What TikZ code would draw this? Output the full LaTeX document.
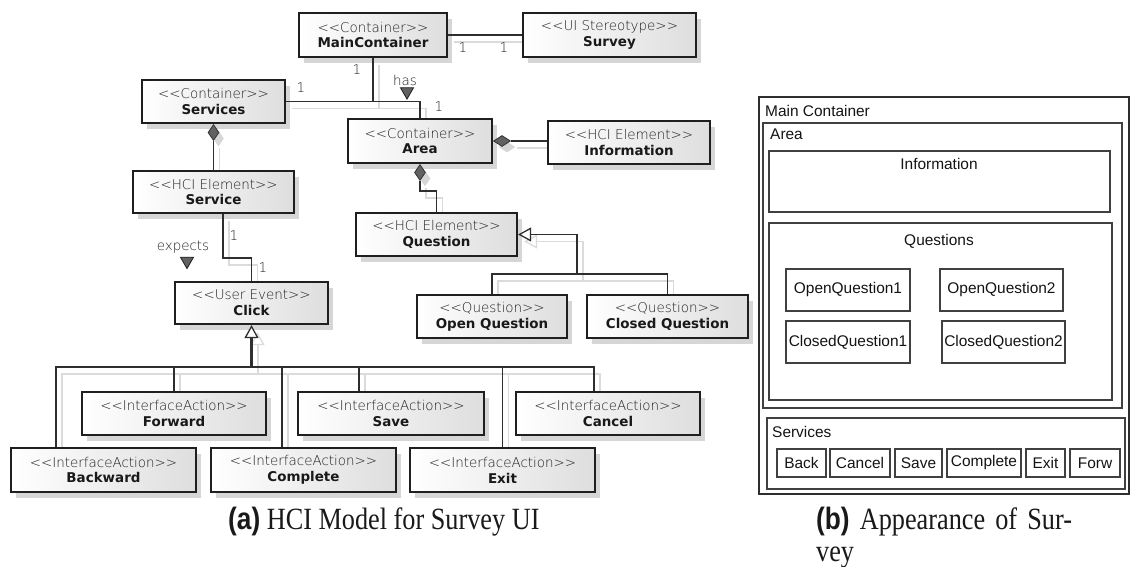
\documentclass[tikz,border=0pt]{standalone}
\usepackage{fontspec}
\setmainfont{Liberation Serif}
\setsansfont{Liberation Sans}
\newfontfamily\umlfont{DejaVu Sans}
\IfFontExistsTF{DejaVu Sans ExtraLight}
  {\newfontfamily\umllight{DejaVu Sans ExtraLight}\def\stcol{black!88}}
  {\newfontfamily\umllight{DejaVu Sans}\def\stcol{black!68}}
\newfontfamily\uifont{Liberation Sans}
\usetikzlibrary{shadows,shapes.geometric,arrows.meta,calc}
\pgfdeclarelayer{bg}
\pgfsetlayers{bg,main}
\newcommand\stt[1]{<\kern0pt<#1>\kern0pt>}
\newcommand\umltext[2]{{\umllight\color{\stcol}\stt{#1}}\\{\bfseries\color{black!90}#2}}
\tikzset{
  uml/.style={draw=black!88, line width=2.2bp, left color=white, right color=black!13,
    drop shadow={shadow xshift=5bp, shadow yshift=-6bp, fill=black!16, draw=none, opacity=1},
    minimum height=43bp, inner sep=0pt, align=center,
    font=\umlfont\fontsize{13.5}{16}\selectfont},
  conn/.style={draw=black!82, line width=1.3bp},
  stem/.style={conn, line width=2.6bp},
  gentip/.style={-{Triangle[fill=white, line width=1.3bp, width=14bp, length=13bp]}},
  gentipstart/.style={{Triangle[fill=white, line width=1.3bp, width=14bp, length=13bp]}-},
  compo/.style={diamond, draw=black!80, fill=black!62, line width=0.8bp, inner sep=0pt,
    drop shadow={shadow xshift=5bp, shadow yshift=-6bp, fill=black!16, draw=none, opacity=1}},
  navtri/.style={regular polygon, regular polygon sides=3, shape border rotate=180,
    minimum size=15bp, inner sep=0pt, draw=black!85, fill=black!62, line width=0.9bp},
  mult/.style={font=\umllight\fontsize{13.5}{16}\selectfont, text=\stcol, inner sep=0pt},
  uibox/.style={draw=black!75, line width=1.1bp, inner sep=0pt, font=\uifont\fontsize{15.5}{18}\selectfont, text=black!92},
  uitext/.style={font=\uifont\fontsize{15.5}{18}\selectfont, text=black!92, inner sep=0pt},
  captext/.style={inner sep=0pt, anchor=base west, text=black!90},
}
\newcommand\umllinks{%
  \draw[conn] (main.east) -- (survey.west);
  \draw[conn] (main.south) -- (main.south |- services.east);
  \draw[conn] (services.east) -| (area.north);
  \draw[conn] (d1.south) -- (service.north);
  \draw[conn] (d2.east) -- (d2.east -| info.west);
  \draw[conn] (d3.south) -- ++(0,10) -| (question.north);
  \draw[conn] ([xshift=9.5bp]service.south) -- ++(0,44) -| (click.north);
  \draw[stem,gentip] (bus1) -- (click.south);
  \draw[conn] ([xshift=-47.5bp]backward.north) |- (bus1) -| ([xshift=-14bp]cancel.north);
  \draw[conn] (forward.north) -- (forward.north |- bus1);
  \draw[conn] ([xshift=-21.5bp]complete.north) -- ([xshift=-21.5bp]complete.north |- bus1);
  \draw[conn] ([xshift=-32bp]save.north) -- ([xshift=-32bp]save.north |- bus1);
  \draw[conn] (exit.north) -- (exit.north |- bus1);
  \draw[conn,gentipstart] (question.east) -| (qb);
  \draw[conn] (openq.north) |- (qb) -| (closedq.north);
}
\begin{document}
\begin{tikzpicture}[x=1bp, y=-1bp]
\useasboundingbox (0,0) rectangle (1130,567);
\begin{pgfonlayer}{bg}
\fill[white] (0,0) rectangle (1130,567);
\end{pgfonlayer}

% ---------------- (a) UML model ----------------
\node[uml, minimum width=148bp, minimum height=44bp] (main) at (373,35) {\umltext{Container}{MainContainer}};
\node[uml, minimum width=173bp, minimum height=44bp] (survey) at (609.5,35) {\umltext{UI Stereotype}{Survey}};
\node[uml, minimum width=143bp] (services) at (213.5,101.5) {\umltext{Container}{Services}};
\node[uml, minimum width=144bp, minimum height=44bp] (area) at (420,141) {\umltext{Container}{Area}};
\node[uml, minimum width=162bp] (info) at (629,142.5) {\umltext{HCI Element}{Information}};
\node[uml, minimum width=161bp, minimum height=42bp] (service) at (213.5,192) {\umltext{HCI Element}{Service}};
\node[uml, minimum width=161bp] (question) at (436.5,234.5) {\umltext{HCI Element}{Question}};
\node[uml, minimum width=153bp, minimum height=42bp] (click) at (251.5,303) {\umltext{User Event}{Click}};
\node[uml, minimum width=150bp] (openq) at (492,316.5) {\umltext{Question}{Open Question}};
\node[uml, minimum width=161bp] (closedq) at (667.5,316.5) {\umltext{Question}{Closed Question}};
\node[uml, minimum width=184bp] (forward) at (174,413.5) {\umltext{InterfaceAction}{Forward}};
\node[uml, minimum width=186bp] (save) at (391,413.5) {\umltext{InterfaceAction}{Save}};
\node[uml, minimum width=184bp] (cancel) at (608,413.5) {\umltext{InterfaceAction}{Cancel}};
\node[uml, minimum width=185bp, minimum height=44bp] (backward) at (103.5,470) {\umltext{InterfaceAction}{Backward}};
\node[uml, minimum width=185bp, minimum height=44bp] (complete) at (303.5,470) {\umltext{InterfaceAction}{Complete}};
\node[uml, minimum width=185bp, minimum height=44bp] (exit) at (502.5,470) {\umltext{InterfaceAction}{Exit}};

% composition diamonds
\node[compo, minimum width=11bp, minimum height=16bp, anchor=north] (d1) at (services.south) {};
\node[compo, minimum width=17bp, minimum height=11bp, anchor=west] (d2) at (area.east) {};
\node[compo, minimum width=11bp, minimum height=16bp, anchor=north] (d3) at (area.south) {};

\coordinate (bus1) at ($(click.south)+(0,42)$);
\coordinate (qb) at (577,274);

% connector shadows
\begin{pgfonlayer}{bg}
\begin{scope}[transform canvas={shift={(6bp,-7bp)}},
   conn/.style={draw=black!14, line width=1.3bp}, stem/.style={conn, line width=2bp}]
\umllinks
\end{scope}
\end{pgfonlayer}

% connectors
\umllinks

% multiplicities and role names
\node[mult] (m1) at (463,48) {1};
\node[mult] (m2) at (504,48) {1};
\node[mult] (m3) at (357,70) {1};
\node[mult] (m4) at (301,88) {1};
\node[mult] (m5) at (439,107) {1};
\node[mult] (m6) at (234,236) {1};
\node[mult] (m7) at (263,268) {1};
\node[mult] (has) at (405,80) {has};
\node[navtri] (hastri) at (407,91.5) {};
\node[mult] (expects) at (183,247) {expects};
\node[navtri] (exptri) at (187,261) {};

% ---------------- (b) appearance ----------------
\node[uibox, line width=1.3bp, draw=black!82, minimum width=370bp, minimum height=397bp] (mc) at (944,295.5) {};
\node[uibox, minimum width=359bp, minimum height=285bp] (uarea) at (942.5,265.5) {};
\node[uibox, minimum width=341bp, minimum height=61bp] (uinfo) at (939.5,181.5) {};
\node[uibox, minimum width=343bp, minimum height=177bp] (uquest) at (940.5,311.5) {};
\node[uibox, minimum width=124bp, minimum height=42bp] (oq1) at (848,290) {OpenQuestion1};
\node[uibox, minimum width=123bp, minimum height=42bp] (oq2) at (1001.5,290) {OpenQuestion2};
\node[uibox, minimum width=124bp, minimum height=42bp] (cq1) at (848,342) {ClosedQuestion1};
\node[uibox, minimum width=123bp, minimum height=42bp] (cq2) at (1003.5,342) {ClosedQuestion2};
\node[uibox, minimum width=358bp, minimum height=71bp] (userv) at (946,453.5) {};
\node[uibox, minimum width=49bp, minimum height=28bp] (bback) at (801.5,463) {Back};
\node[uibox, minimum width=60bp, minimum height=28bp] (bcancel) at (860,463) {Cancel};
\node[uibox, minimum width=47bp, minimum height=28bp] (bsave) at (918.5,463) {Save};
\node[uibox, minimum width=74bp, minimum height=28bp] (bcomp) at (984,463) {Complete};
\node[uibox, minimum width=39bp, minimum height=28bp] (bexit) at (1045.5,463) {Exit};
\node[uibox, minimum width=50bp, minimum height=28bp] (bforw) at (1095,463) {Forw};

\node[uitext, anchor=west] (tmain) at (765,111) {Main Container};
\node[uitext, anchor=west] (tarea) at (770,134) {Area};
\node[uitext] (tinfo) at (939,164) {Information};
\node[uitext] (tquest) at (939,241) {Questions};
\node[uitext, anchor=west] (tserv) at (772,432) {Services};

% ---------------- captions ----------------
\node[captext] (capa) at (228,529) {\scalebox{0.85}[1]{\fontsize{31}{37}\selectfont\textsf{\bfseries(a)} HCI Model for Survey UI}};
\node[captext] (capb) at (816,529) {\scalebox{0.85}[1]{\fontsize{31}{37}\selectfont\makebox[301bp][s]{\textsf{\bfseries(b)} Appearance of Sur-}}};
\node[captext] (capc) at (816,561) {\scalebox{0.85}[1]{\fontsize{31}{37}\selectfont vey}};
\end{tikzpicture}
\end{document}
